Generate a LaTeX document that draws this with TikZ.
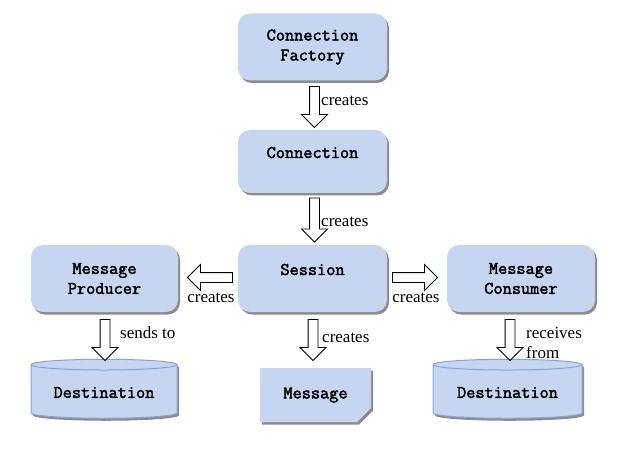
\documentclass[tikz,border=0pt]{standalone}
\usepackage{fontspec}
\setmainfont{Liberation Serif}
\newfontfamily\boxface{Latin Modern Mono}[FakeBold=2.2]
\usetikzlibrary{positioning, shapes.geometric, shapes.arrows, shapes.misc, shadows}
\definecolor{boxblue}{HTML}{C6D6F0}
\definecolor{edgeblue}{HTML}{86A4DA}

\begin{document}
\begin{tikzpicture}[x=1pt, y=-1pt,
  shade/.style={drop shadow={shadow xshift=2pt, shadow yshift=-2.5pt, fill=black!45, opacity=1}},
  boxfont/.style={font=\boxface\fontsize{17.8}{20}\selectfont},
  box/.style={rectangle, rounded corners=12pt, fill=boxblue, shade, minimum width=149pt,
    minimum height=67pt, align=center, boxfont},
  oneline/.style={text height=11pt, text depth=18pt},
  store/.style={cylinder, shape border rotate=90, aspect=0.1, draw=edgeblue, line width=1pt,
    fill=boxblue, shade, minimum width=146pt, minimum height=59pt, boxfont},
  note/.style={chamfered rectangle, chamfered rectangle corners=south east,
    chamfered rectangle xsep=7pt, chamfered rectangle ysep=7pt, fill=boxblue, shade,
    minimum width=111pt, minimum height=54pt, boxfont},
  blockarrow/.style={single arrow, draw, line width=0.8pt, fill=white, inner sep=4.5pt,
    minimum height=41pt, single arrow head extend=8pt},
  lbl/.style={font=\fontsize{17}{20}\selectfont, inner sep=0pt, align=left}
]
  \useasboundingbox (0,0) rectangle (618,454);

  \node[box] (cf) at (312.5,47) {Connection\\Factory};
  \node[box, oneline, minimum height=63pt] (conn) at (312.5,161.5) {Connection};
  \node[box, oneline] (sess) at (312.5,278.5) {Session};
  \node[box, minimum width=147pt] (prod) at (104.5,278.5) {Message\\Producer};
  \node[box, minimum width=148pt] (cons) at (521,278.5) {Message\\Consumer};
  \node[store] (dest1) at (104,392.5) {Destination};
  \node[note] (msg) at (315.5,395) {Message};
  \node[store, minimum width=149pt] (dest2) at (507.5,392.5) {Destination};

  \node[blockarrow, rotate=-90] (a1) at (314.5,104.5) {};
  \node[blockarrow, rotate=-90, minimum height=44pt] (a2) at (314.5,217.5) {};
  \node[blockarrow, rotate=180, minimum height=45pt] (a3) at (212.5,277.5) {};
  \node[blockarrow, minimum height=45pt] (a4) at (412.5,277.5) {};
  \node[blockarrow, rotate=-90] (a5) at (105,337.5) {};
  \node[blockarrow, rotate=-90] (a6) at (313,337.5) {};
  \node[blockarrow, rotate=-90] (a7) at (510,337.5) {};

  \node[lbl, anchor=west] (l1) at ([xshift=6.5pt, yshift=4pt]a1.center) {creates};
  \node[lbl, anchor=west] (l2) at ([xshift=6.5pt, yshift=-4.5pt]a2.center) {creates};
  \node[lbl] (l3) at ([xshift=-1.5pt, yshift=-20.5pt]a3.center) {creates};
  \node[lbl] (l4) at ([xshift=3.5pt, yshift=-20.5pt]a4.center) {creates};
  \node[lbl, anchor=west] (l5) at ([xshift=9pt]a6.center) {creates};
  \node[lbl, anchor=west] (l6) at ([xshift=15pt, yshift=4.5pt]a5.center) {sends to};
  \node[lbl, anchor=west] (l7) at ([xshift=16pt, yshift=-5.5pt]a7.center) {receives\\from};
\end{tikzpicture}
\end{document}
